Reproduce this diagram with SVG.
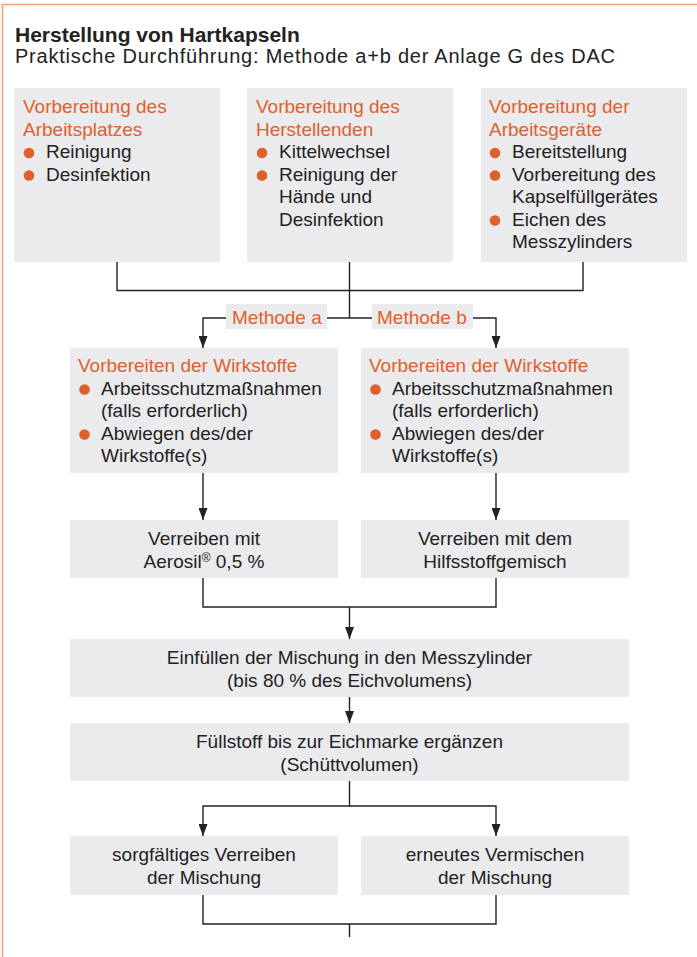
<svg xmlns="http://www.w3.org/2000/svg" width="697" height="957" viewBox="0 0 697 957">
<style>
.bg{fill:#ffffff}
.frame{fill:none;stroke:#f2a47c;stroke-width:1.6}
.box{fill:#ebebed}
.t{font-family:"Liberation Sans",Arial,sans-serif;font-size:19px;fill:#222222}
.h{fill:#e0602c}
.c{text-anchor:middle}
.dot{fill:#e0602c}
.conn{fill:none;stroke:#222222;stroke-width:1.4}
.lbl{fill:#ebebed}
.sup{font-size:12px}
</style>
<defs>
<marker id="arr" viewBox="0 0 12 9" refX="12" refY="4.5" markerWidth="12" markerHeight="9" orient="auto" markerUnits="userSpaceOnUse">
<path d="M0,0 L12,4.5 L0,9 z" fill="#222222"/>
</marker>
</defs>
<rect class="bg" x="0" y="0" width="697" height="957"/>
<rect class="frame" x="2.5" y="4.5" width="760" height="1000"/>

<g id="title">
<text class="t" x="15" y="42" style="font-weight:bold;font-size:21px">Herstellung von Hartkapseln</text>
<text class="t" x="15" y="63" style="font-size:20px" textLength="600" lengthAdjust="spacing">Praktische Durchführung: Methode a+b der Anlage G des DAC</text>
</g>

<g id="connectors">
<path class="conn" d="M117,262 V290.5 H583 V262"/>
<path class="conn" d="M349.5,262 V318"/>
<path class="conn" d="M349.5,318 H203 V348" marker-end="url(#arr)"/>
<path class="conn" d="M349.5,318 H496 V348" marker-end="url(#arr)"/>
<path class="conn" d="M203,473 V520" marker-end="url(#arr)"/>
<path class="conn" d="M496,473 V520" marker-end="url(#arr)"/>
<path class="conn" d="M203,578 V607 H496 V578"/>
<path class="conn" d="M349.5,607 V639" marker-end="url(#arr)"/>
<path class="conn" d="M349.5,697 V723" marker-end="url(#arr)"/>
<path class="conn" d="M349.5,781 V806 H203 V836" marker-end="url(#arr)"/>
<path class="conn" d="M349.5,806 H496 V836" marker-end="url(#arr)"/>
<path class="conn" d="M203,895 V924 H496 V895"/>
<path class="conn" d="M349.5,924 V937"/>
</g>

<g id="label-a">
<rect class="lbl" x="226" y="304" width="101" height="25"/>
<text class="t h" x="232" y="324">Methode a</text>
</g>
<g id="label-b">
<rect class="lbl" x="372" y="304" width="101" height="25"/>
<text class="t h" x="377" y="324">Methode b</text>
</g>

<g id="n-arbeitsplatz">
<rect class="box" x="14" y="88" width="206" height="174"/>
<text class="t h" x="23" y="113">Vorbereitung des</text>
<text class="t h" x="23" y="135.5">Arbeitsplatzes</text>
<circle class="dot" cx="29" cy="153" r="5.3"/>
<text class="t" x="46" y="158">Reinigung</text>
<circle class="dot" cx="29" cy="175.5" r="5.3"/>
<text class="t" x="46" y="180.5">Desinfektion</text>
</g>

<g id="n-herstellende">
<rect class="box" x="247" y="88" width="206" height="174"/>
<text class="t h" x="256" y="113">Vorbereitung des</text>
<text class="t h" x="256" y="135.5">Herstellenden</text>
<circle class="dot" cx="262" cy="153" r="5.3"/>
<text class="t" x="279" y="158">Kittelwechsel</text>
<circle class="dot" cx="262" cy="175.5" r="5.3"/>
<text class="t" x="279" y="180.5">Reinigung der</text>
<text class="t" x="279" y="203">Hände und</text>
<text class="t" x="279" y="225.5">Desinfektion</text>
</g>

<g id="n-arbeitsgeraete">
<rect class="box" x="481" y="88" width="206" height="174"/>
<text class="t h" x="489" y="113">Vorbereitung der</text>
<text class="t h" x="489" y="135.5">Arbeitsgeräte</text>
<circle class="dot" cx="495" cy="153" r="5.3"/>
<text class="t" x="512" y="158">Bereitstellung</text>
<circle class="dot" cx="495" cy="175.5" r="5.3"/>
<text class="t" x="512" y="180.5">Vorbereitung des</text>
<text class="t" x="512" y="203">Kapselfüllgerätes</text>
<circle class="dot" cx="495" cy="220.5" r="5.3"/>
<text class="t" x="512" y="225.5">Eichen des</text>
<text class="t" x="512" y="248">Messzylinders</text>
</g>

<g id="n-wirkstoffe-a">
<rect class="box" x="70" y="348" width="268" height="125"/>
<text class="t h" x="78" y="372">Vorbereiten der Wirkstoffe</text>
<circle class="dot" cx="84.5" cy="389.5" r="5.3"/>
<text class="t" x="101" y="394.5">Arbeitsschutzmaßnahmen</text>
<text class="t" x="101" y="417">(falls erforderlich)</text>
<circle class="dot" cx="84.5" cy="434.5" r="5.3"/>
<text class="t" x="101" y="439.5">Abwiegen des/der</text>
<text class="t" x="101" y="462">Wirkstoffe(s)</text>
</g>

<g id="n-wirkstoffe-b">
<rect class="box" x="361" y="348" width="268" height="125"/>
<text class="t h" x="369" y="372">Vorbereiten der Wirkstoffe</text>
<circle class="dot" cx="375.5" cy="389.5" r="5.3"/>
<text class="t" x="392" y="394.5">Arbeitsschutzmaßnahmen</text>
<text class="t" x="392" y="417">(falls erforderlich)</text>
<circle class="dot" cx="375.5" cy="434.5" r="5.3"/>
<text class="t" x="392" y="439.5">Abwiegen des/der</text>
<text class="t" x="392" y="462">Wirkstoffe(s)</text>
</g>

<g id="n-aerosil">
<rect class="box" x="70" y="520" width="268" height="58"/>
<text class="t c" x="204" y="545">Verreiben mit</text>
<text class="t c" x="204" y="567.5">Aerosil<tspan class="sup" dy="-6">®</tspan><tspan dy="6"> 0,5 %</tspan></text>
</g>

<g id="n-hilfsstoff">
<rect class="box" x="361" y="520" width="268" height="58"/>
<text class="t c" x="495" y="545">Verreiben mit dem</text>
<text class="t c" x="495" y="567.5">Hilfsstoffgemisch</text>
</g>

<g id="n-einfuellen">
<rect class="box" x="70" y="639" width="559" height="58"/>
<text class="t c" x="349.5" y="664">Einfüllen der Mischung in den Messzylinder</text>
<text class="t c" x="349.5" y="686.5">(bis 80 % des Eichvolumens)</text>
</g>

<g id="n-fuellstoff">
<rect class="box" x="70" y="723" width="559" height="58"/>
<text class="t c" x="349.5" y="748">Füllstoff bis zur Eichmarke ergänzen</text>
<text class="t c" x="349.5" y="770.5">(Schüttvolumen)</text>
</g>

<g id="n-verreiben">
<rect class="box" x="70" y="836" width="268" height="59"/>
<text class="t c" x="204" y="861">sorgfältiges Verreiben</text>
<text class="t c" x="204" y="883.5">der Mischung</text>
</g>

<g id="n-vermischen">
<rect class="box" x="361" y="836" width="268" height="59"/>
<text class="t c" x="495" y="861">erneutes Vermischen</text>
<text class="t c" x="495" y="883.5">der Mischung</text>
</g>
</svg>
